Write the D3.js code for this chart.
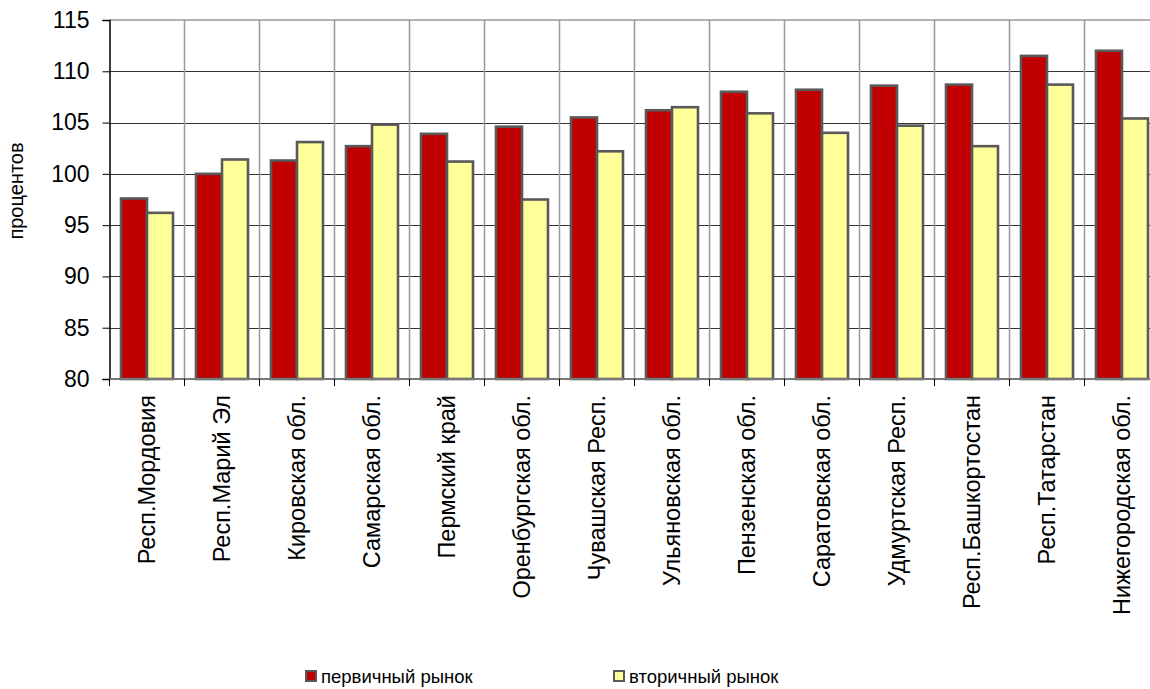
<!DOCTYPE html>
<html>
<head>
<meta charset="utf-8">
<script src="https://cdn.jsdelivr.net/npm/d3@7"></script>
<style>
    body { margin: 0; background: #fff; }
    text { font-family: "Liberation Sans", Arial, sans-serif; fill: #000; }
</style>
</head>
<body>
<svg id="chart" width="1150" height="689"></svg>
<script>
var regions = ["Респ.Мордовия", "Респ.Марий Эл", "Кировская обл.", "Самарская обл.",
    "Пермский край", "Оренбургская обл.", "Чувашская Респ.", "Ульяновская обл.",
    "Пензенская обл.", "Саратовская обл.", "Удмуртская Респ.", "Респ.Башкортостан",
    "Респ.Татарстан", "Нижегородская обл."];
var primary = [97.6, 100.0, 101.3, 102.7, 103.9, 104.6, 105.5, 106.2, 108.0, 108.2, 108.6, 108.7, 111.5, 112.0];
var secondary = [96.2, 101.4, 103.1, 104.8, 101.2, 97.5, 102.2, 106.5, 105.9, 104.0, 104.7, 102.7, 108.7, 105.4];
var seriesNames = ["первичный рынок", "вторичный рынок"];
var colors = ["#C00000", "#FFFF99"];
var yTicks = [80, 85, 90, 95, 100, 105, 110, 115];

var svg = d3.select('#chart');
var plotLeft = 109.5, plotTop = 20, plotBottom = 379;
var catWidth = 75;

var x0 = d3.scaleBand().domain(regions)
    .range([plotLeft, plotLeft + catWidth * regions.length]);
var x1 = d3.scaleBand().domain(seriesNames).range([11.5, 63.5]);
var y = d3.scaleLinear().domain([80, 115]).range([plotBottom, plotTop]);

// horizontal gridlines
svg.append('g').selectAll('line').data(yTicks.slice(1, -1)).enter().append('line')
    .attr('x1', plotLeft).attr('x2', 1150)
    .attr('y1', function(d) { return Math.round(y(d)) + 0.5; })
    .attr('y2', function(d) { return Math.round(y(d)) + 0.5; })
    .attr('stroke', '#333').attr('stroke-width', 1);

// top border
svg.append('line').attr('x1', plotLeft).attr('x2', 1150)
    .attr('y1', plotTop).attr('y2', plotTop)
    .attr('stroke', '#999').attr('stroke-width', 1.5);

// vertical gridlines between categories
svg.append('g').selectAll('line').data(regions.slice(1)).enter().append('line')
    .attr('x1', function(d) { return x0(d); })
    .attr('x2', function(d) { return x0(d); })
    .attr('y1', plotTop).attr('y2', plotBottom)
    .attr('stroke', '#999').attr('stroke-width', 1.5);

// bars
var groups = svg.append('g').selectAll('g').data(regions).enter().append('g')
    .attr('transform', function(d) { return 'translate(' + x0(d) + ',0)'; });

groups.selectAll('rect')
    .data(function(d, i) { return [primary[i], secondary[i]]; })
    .enter().append('rect')
    .attr('x', function(d, j) { return x1(seriesNames[j]); })
    .attr('width', x1.bandwidth())
    .attr('y', function(d) { return y(d); })
    .attr('height', function(d) { return plotBottom - y(d); })
    .attr('fill', function(d, j) { return colors[j]; })
    .attr('stroke', '#595959')
    .attr('stroke-width', 2.6);

// y axis
var yAxis = svg.append('g')
    .attr('transform', 'translate(' + plotLeft + ',0)')
    .call(d3.axisLeft(y).tickValues(yTicks).tickSize(7).tickPadding(13));
yAxis.select('.domain').attr('stroke', '#000').attr('stroke-width', 1.5);
yAxis.selectAll('.tick line').attr('stroke', '#000');
yAxis.selectAll('text').style('font-size', '23px')
    .style('font-family', '"Liberation Sans", Arial, sans-serif');

// x axis
var xAxis = svg.append('g')
    .attr('transform', 'translate(0,' + plotBottom + ')');
xAxis.append('line').attr('x1', plotLeft).attr('x2', 1150)
    .attr('y1', 0).attr('y2', 0)
    .attr('stroke', '#777').attr('stroke-width', 2);
xAxis.selectAll('line.tick').data(regions).enter().append('line')
    .attr('class', 'tick')
    .attr('x1', function(d) { return x0(d); })
    .attr('x2', function(d) { return x0(d); })
    .attr('y1', 0).attr('y2', 7)
    .attr('stroke', '#000');
xAxis.selectAll('text').data(regions).enter().append('text')
    .attr('transform', function(d) {
        return 'translate(' + (x0(d) + catWidth / 2 + 8) + ',16) rotate(-90)';
    })
    .attr('text-anchor', 'end')
    .style('font-size', '23.5px')
    .text(String);

// y title
svg.append('text')
    .attr('transform', 'translate(22.5,191) rotate(-90)')
    .attr('text-anchor', 'middle')
    .style('font-size', '20px')
    .text('процентов');

// legend
var legendX = [306, 614];
var legend = svg.append('g').selectAll('g').data(seriesNames).enter().append('g')
    .attr('transform', function(d, i) { return 'translate(' + legendX[i] + ',671)'; });
legend.append('rect')
    .attr('width', 10).attr('height', 10)
    .attr('fill', function(d, i) { return colors[i]; })
    .attr('stroke', '#595959').attr('stroke-width', 2);
legend.append('text')
    .attr('x', 15).attr('y', 12)
    .style('font-size', '18.5px')
    .text(String);
</script>
</body>
</html>
